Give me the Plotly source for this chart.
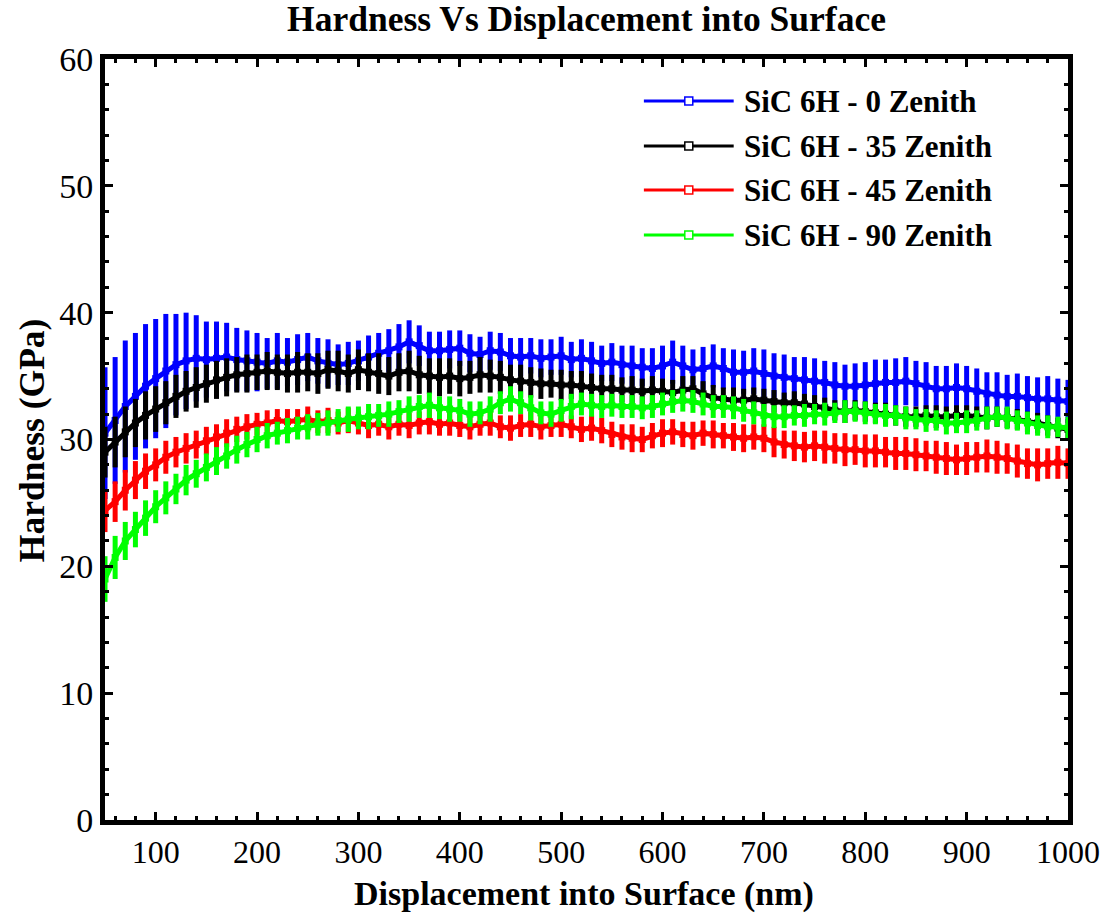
import plotly.graph_objects as go

# Displacement into surface (nm)
displacement = list(range(50, 1001, 10))

# Series values (GPa), with error half-widths
h_0 = [30.5, 31.5, 32.6, 33.4, 34.2, 34.8, 35.4, 35.9, 36.2, 36.4,
       36.3, 36.4, 36.5, 36.3, 36.2, 36.1, 36.0, 36.2, 36.1, 36.3,
       36.5, 36.2, 36.0, 35.9, 36.0, 36.2, 36.5, 36.8, 37.0, 37.3,
       37.7, 37.4, 37.0, 37.0, 37.1, 37.2, 36.8, 36.7, 37.0, 36.9,
       36.6, 36.5, 36.6, 36.4, 36.5, 36.6, 36.3, 36.4, 36.2, 36.0,
       36.1, 35.9, 35.8, 35.7, 35.6, 35.8, 36.1, 35.8, 35.5, 35.6,
       35.8, 35.6, 35.3, 35.3, 35.4, 35.2, 35.0, 34.9, 34.8, 34.7,
       34.6, 34.5, 34.3, 34.2, 34.2, 34.3, 34.4, 34.5, 34.5, 34.6,
       34.4, 34.2, 34.0, 34.0, 34.1, 34.0, 33.8, 33.6, 33.5, 33.4,
       33.4, 33.3, 33.2, 33.2, 33.1, 33.0]
e_0 = [5.2, 5.0, 5.2, 5.0, 4.9, 4.7, 4.5, 4.0, 3.8, 3.4,
       3.0, 2.9, 2.7, 2.5, 2.4, 2.3, 2.0, 2.2, 1.9, 2.0,
       1.9, 1.8, 1.9, 1.6, 1.7, 1.6, 1.7, 1.6, 1.7, 1.8,
       1.7, 1.6, 1.5, 1.5, 1.5, 1.4, 1.5, 1.4, 1.5, 1.5,
       1.4, 1.5, 1.4, 1.5, 1.4, 1.5, 1.4, 1.5, 1.5, 1.4,
       1.5, 1.5, 1.6, 1.5, 1.6, 1.6, 1.7, 1.6, 1.6, 1.7,
       1.7, 1.6, 1.8, 1.7, 1.8, 1.9, 1.8, 1.8, 1.7, 1.8,
       1.8, 1.7, 1.8, 1.7, 1.8, 1.8, 1.9, 1.8, 1.9, 1.9,
       1.8, 1.9, 1.8, 1.8, 1.9, 1.8, 1.8, 1.7, 1.8, 1.7,
       1.8, 1.7, 1.7, 1.8, 1.7, 1.7]

h_35 = [29.0, 29.8, 30.6, 31.3, 31.9, 32.4, 32.9, 33.4, 33.8, 34.1,
        34.4, 34.7, 34.9, 35.1, 35.2, 35.3, 35.4, 35.3, 35.2, 35.3,
        35.3, 35.2, 35.5, 35.4, 35.2, 35.5, 35.3, 35.2, 35.0, 35.3,
        35.4, 35.1, 35.0, 34.9, 35.0, 34.8, 34.9, 35.1, 35.0, 34.9,
        34.7, 34.6, 34.5, 34.4, 34.4, 34.3, 34.3, 34.2, 34.1, 34.0,
        34.0, 33.9, 33.9, 33.8, 33.9, 33.8, 33.7, 33.9, 34.0, 33.6,
        33.3, 33.2, 33.1, 33.1, 33.2, 33.1, 33.0, 32.9, 32.9, 32.8,
        32.6, 32.5, 32.3, 32.2, 32.3, 32.2, 32.1, 32.0, 31.9, 31.8,
        31.8, 31.9, 31.8, 31.8, 31.9, 31.9, 31.8, 31.7, 31.8, 31.7,
        31.6, 31.4, 31.3, 31.1, 30.9, 30.8]
e_35 = [2.0, 2.0, 2.0, 1.9, 1.9, 1.8, 1.7, 1.7, 1.6, 1.6,
        1.5, 1.5, 1.5, 1.4, 1.5, 1.4, 1.5, 1.4, 1.5, 1.6,
        1.5, 1.6, 1.5, 1.6, 1.5, 1.6, 1.5, 1.6, 1.5, 1.5,
        1.6, 1.5, 1.4, 1.5, 1.4, 1.4, 1.3, 1.4, 1.3, 1.3,
        1.2, 1.3, 1.2, 1.2, 1.1, 1.2, 1.1, 1.2, 1.1, 1.1,
        1.1, 1.0, 1.1, 1.0, 1.1, 1.0, 1.0, 1.1, 1.0, 1.0,
        1.0, 0.9, 1.0, 0.9, 0.9, 0.9, 0.9, 0.8, 0.9, 0.8,
        0.9, 0.8, 0.8, 0.9, 0.8, 0.8, 0.8, 0.9, 0.8, 0.8,
        0.8, 0.8, 0.9, 0.8, 0.8, 0.8, 0.8, 0.9, 0.8, 0.8,
        0.8, 0.8, 0.8, 0.8, 0.8, 0.8]

h_45 = [24.4, 25.1, 26.0, 26.8, 27.5, 28.0, 28.6, 29.0, 29.3, 29.6,
        29.9, 30.2, 30.5, 30.8, 31.0, 31.2, 31.3, 31.5, 31.4, 31.5,
        31.6, 31.4, 31.5, 31.3, 31.5, 31.3, 31.1, 31.2, 31.0, 31.2,
        31.1, 31.3, 31.4, 31.2, 31.3, 31.1, 31.0, 31.2, 31.3, 31.0,
        30.9, 31.1, 31.2, 31.0, 31.1, 31.2, 31.0, 30.8, 30.9, 30.7,
        30.4, 30.2, 30.1, 30.0, 30.3, 30.5, 30.6, 30.4, 30.3, 30.5,
        30.4, 30.3, 30.2, 30.1, 30.2, 30.1, 29.8, 29.6, 29.5, 29.4,
        29.5, 29.4, 29.3, 29.2, 29.2, 29.1, 29.1, 29.0, 28.9, 28.9,
        28.8, 28.7, 28.6, 28.5, 28.4, 28.5, 28.6, 28.7, 28.6, 28.5,
        28.3, 28.1, 28.0, 28.1, 28.2, 28.1]
e_45 = [1.7, 1.6, 1.6, 1.5, 1.4, 1.3, 1.3, 1.2, 1.2, 1.1,
        1.1, 1.0, 1.1, 1.0, 1.0, 0.9, 1.0, 0.9, 1.0, 0.9,
        1.0, 0.9, 1.0, 0.9, 1.0, 0.9, 1.0, 0.9, 1.0, 0.9,
        1.0, 0.9, 1.0, 0.9, 1.0, 0.9, 1.0, 0.9, 1.0, 0.9,
        1.0, 0.9, 1.0, 1.0, 0.9, 1.0, 0.9, 1.0, 1.0, 1.0,
        1.0, 1.0, 1.1, 1.0, 1.0, 1.1, 1.0, 1.0, 1.1, 1.0,
        1.1, 1.0, 1.1, 1.1, 1.0, 1.1, 1.2, 1.1, 1.2, 1.2,
        1.2, 1.3, 1.2, 1.3, 1.2, 1.3, 1.3, 1.2, 1.3, 1.3,
        1.3, 1.2, 1.3, 1.3, 1.2, 1.3, 1.2, 1.3, 1.3, 1.2,
        1.3, 1.2, 1.3, 1.2, 1.3, 1.2]

h_90 = [19.0, 20.7, 22.0, 22.9, 23.8, 24.7, 25.4, 26.1, 26.8, 27.3,
        27.8, 28.3, 28.7, 29.2, 29.6, 30.0, 30.3, 30.5, 30.7, 30.9,
        31.0, 31.2, 31.3, 31.5, 31.6, 31.7, 31.8, 31.9, 32.0, 32.2,
        32.4, 32.6, 32.7, 32.5, 32.4, 32.3, 32.0, 32.1, 32.4, 32.9,
        33.2, 32.9, 32.5, 32.1, 32.0, 32.3, 32.6, 32.8, 32.7, 32.6,
        32.7, 32.6, 32.6, 32.5, 32.6, 32.8, 33.0, 33.1, 33.0, 32.8,
        32.6, 32.6, 32.5, 32.3, 32.1, 31.9, 31.8, 31.8, 31.9, 31.9,
        32.0, 32.0, 32.1, 32.2, 32.2, 32.1, 32.0, 31.9, 31.9, 31.7,
        31.6, 31.5, 31.5, 31.3, 31.3, 31.4, 31.5, 31.7, 31.8, 31.7,
        31.5, 31.3, 31.1, 31.0, 31.0, 30.9]
e_90 = [1.8, 1.7, 1.5, 1.4, 1.4, 1.3, 1.3, 1.2, 1.2, 1.1,
        1.1, 1.1, 1.0, 1.1, 1.0, 1.0, 1.0, 0.9, 1.0, 0.9,
        1.0, 0.9, 1.0, 0.9, 1.0, 0.9, 1.0, 0.9, 1.0, 0.9,
        1.0, 0.9, 1.0, 0.9, 1.0, 0.9, 1.0, 0.9, 1.0, 0.9,
        1.0, 0.9, 1.0, 0.9, 1.0, 0.9, 1.0, 0.9, 0.9, 0.9,
        0.9, 0.9, 0.9, 0.9, 0.9, 0.9, 0.9, 0.9, 0.9, 0.9,
        0.9, 0.9, 0.9, 0.9, 0.9, 0.9, 0.9, 0.9, 0.8, 0.9,
        0.8, 0.9, 0.8, 0.9, 0.8, 0.9, 0.8, 0.9, 0.8, 0.9,
        0.8, 0.9, 0.8, 0.9, 0.8, 0.9, 0.8, 0.9, 0.8, 0.9,
        0.8, 0.9, 0.8, 0.9, 0.8, 0.9]

series_names = ["SiC 6H - 0 Zenith", "SiC 6H - 35 Zenith",
                "SiC 6H - 45 Zenith", "SiC 6H - 90 Zenith"]
series_vals = [h_0, h_35, h_45, h_90]
series_errs = [e_0, e_35, e_45, e_90]
colors = ["#0000FF", "#000000", "#FF0000", "#00FF00"]

FONT = "Liberation Serif"

fig = go.Figure()
for name, vals, errs, col in zip(series_names, series_vals, series_errs, colors):
    fig.add_trace(go.Scatter(
        x=displacement, y=vals, name=name, mode="lines+markers",
        line=dict(color=col, width=5),
        marker=dict(symbol="square", size=7, color=col),
        error_y=dict(type="data", array=errs, visible=True,
                     color=col, thickness=5, width=0),
        showlegend=False,
    ))

# Manual legend (paper coordinates)
legend_rows_px = [101, 146, 190, 235]
L, R, T, B = 105, 1070, 59, 820
def px_x(p):
    return (p - L) / (R - L)
def px_y(p):
    return (B - p) / (B - T)

shapes = []
annotations = []
for name, col, ypx in zip(series_names, colors, legend_rows_px):
    yy = px_y(ypx)
    shapes.append(dict(type="line", xref="paper", yref="paper",
                       x0=px_x(645), x1=px_x(735), y0=yy, y1=yy,
                       line=dict(color=col, width=3)))
    shapes.append(dict(type="rect", xref="paper", yref="paper",
                       x0=px_x(686), x1=px_x(694), y0=px_y(ypx + 4), y1=px_y(ypx - 4),
                       line=dict(color=col, width=1.5), fillcolor="white"))
    annotations.append(dict(text="<b>" + name + "</b>", xref="paper", yref="paper",
                            x=px_x(743), y=yy, xanchor="left", yanchor="middle",
                            showarrow=False,
                            font=dict(family=FONT, size=31, color="black")))

# Axis titles placed as annotations for precise positions
annotations.append(dict(text="<b>Displacement into Surface (nm)</b>", xref="paper", yref="paper",
                        x=px_x(585), y=px_y(894), xanchor="center", yanchor="middle",
                        showarrow=False, font=dict(family=FONT, size=34, color="black")))
annotations.append(dict(text="<b>Hardness (GPa)</b>", xref="paper", yref="paper",
                        x=px_x(32), y=px_y(440), xanchor="center", yanchor="middle",
                        textangle=-90, showarrow=False,
                        font=dict(family=FONT, size=35.5, color="black")))

fig.update_layout(
    width=1112, height=913,
    margin=dict(l=L, r=1112 - R, t=T, b=913 - B),
    paper_bgcolor="white", plot_bgcolor="white",
    title=dict(text="<b>Hardness Vs Displacement into Surface</b>",
               x=0.5, xref="paper", y=1 - 19 / 913, yref="container",
               xanchor="center", yanchor="middle",
               font=dict(family=FONT, size=35.5, color="black")),
    shapes=shapes, annotations=annotations,
    showlegend=False,
)
fig.update_xaxes(
    range=[50, 1000], tickvals=[100, 200, 300, 400, 500, 600, 700, 800, 900, 1000],
    showgrid=False, zeroline=False,
    showline=True, linecolor="black", linewidth=5, mirror="ticks",
    ticks="inside", ticklen=8, tickwidth=3, tickcolor="black",
    minor=dict(dtick=20, tick0=0, ticks="inside", ticklen=4, tickwidth=3, tickcolor="black", showgrid=False),
    tickfont=dict(family=FONT, size=32, color="black"),
)
fig.update_yaxes(
    range=[0, 60], dtick=10,
    showgrid=False, zeroline=False,
    showline=True, linecolor="black", linewidth=5, mirror="ticks",
    ticks="inside", ticklen=8, tickwidth=3, tickcolor="black",
    minor=dict(dtick=2, ticks="inside", ticklen=4, tickwidth=3, tickcolor="black", showgrid=False),
    tickfont=dict(family=FONT, size=34, color="black"),
)

fig.write_html("out.html")
